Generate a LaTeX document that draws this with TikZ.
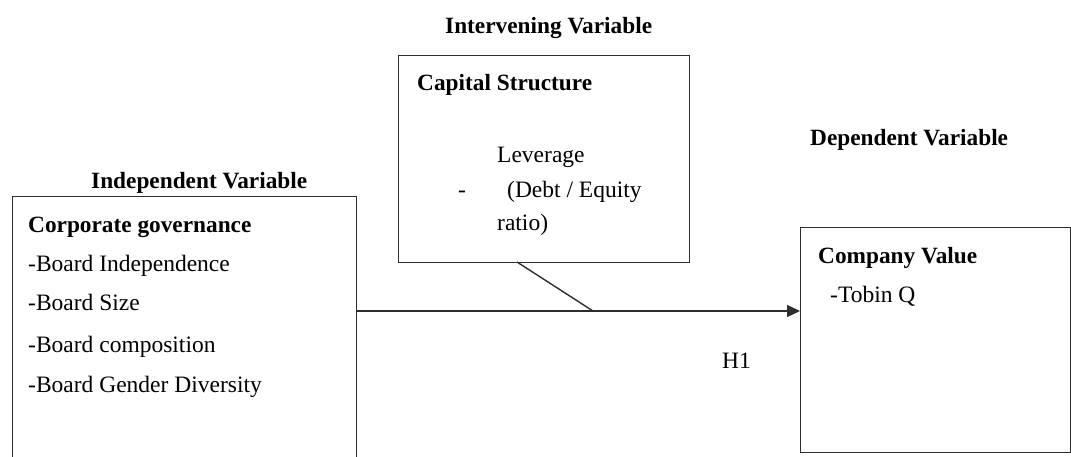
\documentclass[tikz,border=0pt]{standalone}
\usepackage{fontspec}
\setmainfont{Liberation Serif}
\usetikzlibrary{arrows.meta,calc}
\definecolor{lineclr}{HTML}{2E2E2E}
\tikzset{
  box/.style={draw=lineclr, line width=1.4pt, rectangle, inner sep=0pt, anchor=north west},
  txt/.style={anchor=base west, inner sep=0pt, font=\fontsize{23.5}{28}\selectfont},
  ttl/.style={txt, font=\fontsize{23.3}{28}\selectfont\bfseries},
  conn/.style={draw=lineclr, line width=1.4pt},
  arr/.style={conn, -{Triangle[length=13pt,width=12pt]}}
}
\begin{document}
\begin{tikzpicture}[x=1pt,y=-1pt]
\clip (0,0) rectangle (1071,456);
\fill[white] (0,0) rectangle (1071,456);
% boxes
\node[box, minimum width=344pt, minimum height=290pt] (cg) at (12,196) {};
\node[box, minimum width=291pt, minimum height=207pt] (cs) at (398,55) {};
\node[box, minimum width=269.5pt, minimum height=225pt] (cv) at (800,227) {};
% titles
\node[ttl] (t1) at (91,188) {Independent Variable};
\node[ttl] (t2) at (445,33) {Intervening Variable};
\node[ttl] (t3) at (810,145) {Dependent Variable};
% left box text
\node[ttl] (cgh) at (28,232) {Corporate governance};
\node[txt] (cg1) at (28,271) {-Board Independence};
\node[txt] (cg2) at (28,310) {-Board Size};
\node[txt] (cg3) at (28,352) {-Board composition};
\node[txt] (cg4) at (28,392) {-Board Gender Diversity};
% middle box text
\node[ttl] (csh) at (417,90) {Capital Structure};
\node[txt] (cs1) at (497,162) {Leverage};
\node[txt] (csd) at (458,197) {-};
\node[txt] (cs2) at (507,197) {(Debt /\ Equity};
\node[txt] (cs3) at (497,230) {ratio)};
% right box text
\node[ttl] (cvh) at (818,263) {Company Value};
\node[txt] (cv1) at (830,302) {-Tobin Q};
% H1
\node[txt] (h1) at (722,368) {H1};
% connectors
\coordinate (mid) at (593,311);
\coordinate (cstop) at (517,262);
\draw[arr] (cg.east |- mid) -- (cv.west |- mid);
\draw[conn] (cstop) -- (mid);
\end{tikzpicture}
\end{document}
